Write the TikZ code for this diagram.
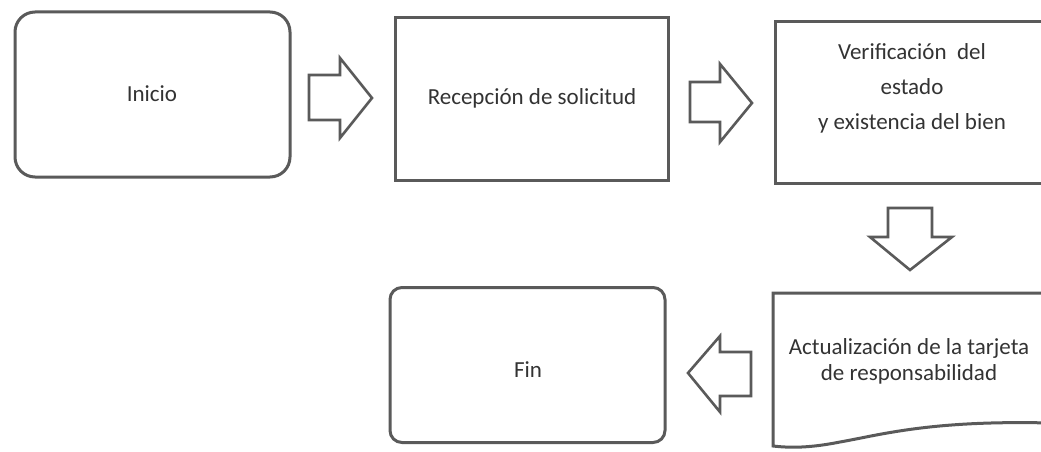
\documentclass[tikz,border=0pt]{standalone}
\usepackage{fontspec}
\setmainfont{Carlito}
\definecolor{linegray}{HTML}{5A5A5A}
\definecolor{textgray}{HTML}{333333}
\tikzset{
  box/.style={draw=linegray, line width=3pt, fill=white, inner sep=0pt},
  lbl/.style={align=center, text=textgray, font=\fontsize{23}{35}\selectfont, inner sep=0pt},
  blockarrow/.style={draw=linegray, line width=2.6pt, fill=white, line join=miter},
  doctext/.style={align=center, text=textgray, font=\fontsize{23}{26}\selectfont, inner sep=0pt}
}
\begin{document}
\begin{tikzpicture}[x=1pt, y=-1pt]
\useasboundingbox (0,0) rectangle (1041,452);
\fill[white] (0,0) rectangle (1041,452);
\clip (0,0) rectangle (1041,452);
% boxes
\node[box, rounded corners=20pt, minimum width=275pt, minimum height=165pt] (inicio) at (152.5,94.5) {};
\node[lbl] (tinicio) at (152,94) {Inicio};
\node[box, minimum width=273pt, minimum height=162pt] (recep) at (531.5,99) {};
\node[lbl] (trecep) at (532,98.5) {Recepción de solicitud};
\node[box, minimum width=275pt, minimum height=161pt] (verif) at (912.5,102.5) {};
\node[lbl] (tverif) at (912,88) {Verificación\ \ del\\estado\\y existencia del bien};
\node[box, rounded corners=12pt, minimum width=275pt, minimum height=155pt] (fin) at (527.5,365) {};
\node[lbl] (tfin) at (528,369.5) {Fin};
% document shape
\coordinate (dtl) at (773,293);
\coordinate (dtr) at (1050,293);
\coordinate (dbr) at (1050,423);
\coordinate (dbl) at (773,446);
\draw[draw=linegray, line width=3pt, fill=white, line join=miter]
  (dbl) -- (dtl) -- (dtr) -- (dbr)
  .. controls (930,420) and (880,435) .. (840,442)
  .. controls (810,448) and (790,448) .. (dbl) -- cycle;
\node[doctext] (actual) at (909,361) {Actualización de la tarjeta\\de responsabilidad};
% block arrows
\draw[blockarrow] (309,75) -- (340,75) -- (340,58) -- (372,98) -- (340,138) -- (340,120) -- (309,120) -- cycle;
\draw[blockarrow] (690,82) -- (720,82) -- (720,64) -- (752,103) -- (720,142) -- (720,122) -- (690,122) -- cycle;
\draw[blockarrow] (888,208) -- (932,208) -- (932,237) -- (952,237) -- (910,270) -- (870,237) -- (888,237) -- cycle;
\draw[blockarrow] (751,352) -- (720,352) -- (720,336) -- (688,373) -- (720,412) -- (720,396) -- (751,396) -- cycle;
\end{tikzpicture}
\end{document}
